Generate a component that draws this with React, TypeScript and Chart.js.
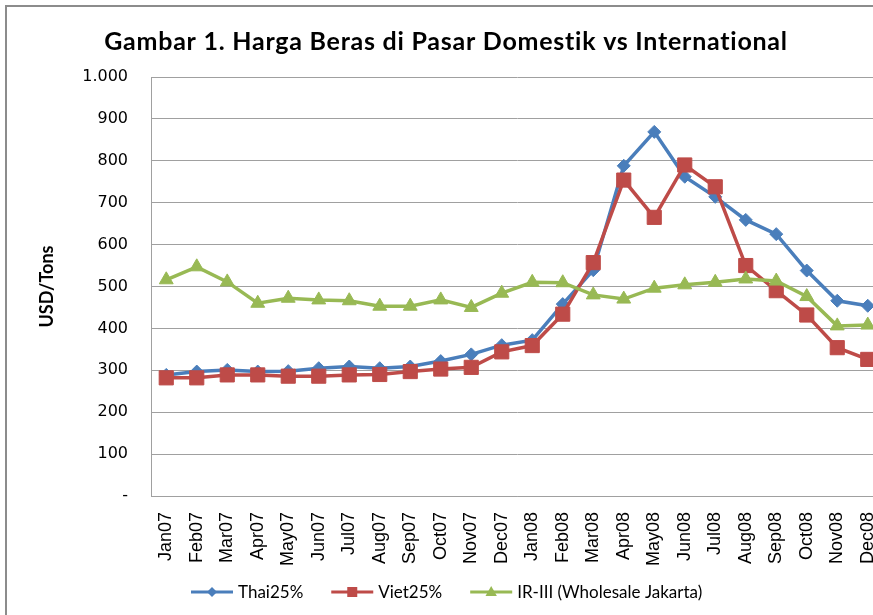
import React, { useEffect, useRef } from 'react';
import { Chart, registerables } from 'chart.js';

Chart.register(...registerables);

const TITLE = 'Gambar 1. Harga Beras di Pasar Domestik vs International';
const Y_TITLE = 'USD/Tons';

const months = [
  'Jan07', 'Feb07', 'Mar07', 'Apr07', 'May07', 'Jun07', 'Jul07', 'Aug07', 'Sep07', 'Oct07', 'Nov07', 'Dec07',
  'Jan08', 'Feb08', 'Mar08', 'Apr08', 'May08', 'Jun08', 'Jul08', 'Aug08', 'Sep08', 'Oct08', 'Nov08', 'Dec08',
];

const seriesNames = ['Thai25%', 'Viet25%', 'IR-III (Wholesale Jakarta)'];

const thai25 = [289, 297, 301, 297, 298, 305, 309, 305, 309, 322, 338, 360, 372, 458, 539, 788, 869, 762, 714, 659, 625, 538, 466, 454];
const viet25 = [282, 282, 289, 289, 286, 286, 289, 290, 297, 303, 307, 344, 359, 434, 557, 754, 665, 790, 738, 550, 490, 432, 354, 326];
const irIII = [516, 547, 511, 460, 472, 468, 466, 453, 453, 468, 450, 484, 510, 509, 480, 470, 496, 504, 510, 518, 513, 476, 406, 408];

const Y_MIN = 0;
const Y_MAX = 1000;
const Y_STEP = 100;

const CANVAS_W = 900;
const CANVAS_H = 640;

function formatTick(v: number): string {
  if (v === 0) return '-';
  if (v >= 1000) {
    return `${Math.floor(v / 1000)}.${String(v % 1000).padStart(3, '0')}`;
  }
  return String(v);
}

function drawMarker(ctx: CanvasRenderingContext2D, style: string, x: number, y: number, r: number, color: string) {
  ctx.save();
  ctx.fillStyle = color;
  ctx.beginPath();
  if (style === 'rectRot') {
    ctx.moveTo(x, y - r);
    ctx.lineTo(x + r, y);
    ctx.lineTo(x, y + r);
    ctx.lineTo(x - r, y);
  } else if (style === 'rect') {
    ctx.rect(x - r, y - r, 2 * r, 2 * r);
  } else {
    ctx.moveTo(x, y - r);
    ctx.lineTo(x + r * 0.95, y + r * 0.65);
    ctx.lineTo(x - r * 0.95, y + r * 0.65);
  }
  ctx.closePath();
  ctx.fill();
  ctx.restore();
}

const decorPlugin = {
  id: 'decor',
  afterDraw(chart: any) {
    const ctx: any = chart.ctx;
    ctx.save();
    // Title
    ctx.font = 'bold 25px Lato';
    ctx.letterSpacing = '0.75px';
    ctx.fillStyle = '#000';
    ctx.textAlign = 'center';
    ctx.textBaseline = 'alphabetic';
    ctx.fillText(TITLE, 439, 43);
    ctx.letterSpacing = '0px';

    // Legend
    ctx.font = '17px Lato';
    ctx.textAlign = 'left';
    ctx.textBaseline = 'middle';
    let x = 184;
    const y = 585;
    const legendSizes = [5, 5, 6];
    chart.data.datasets.forEach((ds: any, i: number) => {
      ctx.strokeStyle = ds.borderColor;
      ctx.lineWidth = 3;
      ctx.beginPath();
      ctx.moveTo(x, y);
      ctx.lineTo(x + 42, y);
      ctx.stroke();
      drawMarker(ctx, ds.pointStyle, x + 21, y, legendSizes[i], ds.borderColor);
      ctx.fillStyle = '#000';
      ctx.fillText(ds.label, x + 47, y + 1);
      x += 47 + ctx.measureText(ds.label).width + 28;
    });
    ctx.restore();
  },
};

export default function App() {
  const ref = useRef<HTMLCanvasElement>(null);

  useEffect(() => {
    if (!ref.current) return;
    const chart = new Chart(ref.current, {
      type: 'line',
      data: {
        labels: months,
        datasets: [
          {
            label: seriesNames[0],
            data: thai25,
            borderColor: '#4A7EBB',
            backgroundColor: '#4A7EBB',
            borderWidth: 3.5,
            pointStyle: 'rectRot',
            pointRadius: 6.5,
            pointBorderWidth: 1,
            tension: 0,
            order: 3,
          },
          {
            label: seriesNames[1],
            data: viet25,
            borderColor: '#BE4B48',
            backgroundColor: '#BE4B48',
            borderWidth: 3.5,
            pointStyle: 'rect',
            pointRadius: 10,
            pointBorderWidth: 1,
            tension: 0,
            order: 2,
          },
          {
            label: seriesNames[2],
            data: irIII,
            borderColor: '#98B954',
            backgroundColor: '#98B954',
            borderWidth: 3.5,
            pointStyle: 'triangle',
            pointRadius: 8,
            pointBorderWidth: 1,
            tension: 0,
            order: 1,
          },
        ],
      },
      options: {
        responsive: false,
        animation: false,
        devicePixelRatio: 1,
        layout: { padding: { top: 70, right: 24, left: 0, bottom: 0 } },
        plugins: {
          legend: { display: false },
          title: { display: false },
          tooltip: { enabled: false },
        },
        scales: {
          x: {
            type: 'category',
            offset: true,
            grid: { display: false, drawTicks: false },
            border: { display: true, color: '#A0A0A0', width: 1 },
            ticks: {
              autoSkip: false,
              minRotation: 90,
              maxRotation: 90,
              padding: 16,
              color: '#000',
              font: { family: 'Liberation Sans', size: 18 },
            },
            afterFit(scale: any) {
              scale.height = CANVAS_H - 489;
            },
          },
          y: {
            min: Y_MIN,
            max: Y_MAX,
            ticks: {
              stepSize: Y_STEP,
              padding: 23,
              color: '#000',
              font: { family: 'DejaVu Sans', size: 16 },
              callback: (v: any) => formatTick(Number(v)),
            },
            grid: { color: '#A0A0A0', lineWidth: 1, drawTicks: false },
            border: { color: '#A0A0A0', width: 1 },
            title: {
              display: true,
              text: Y_TITLE,
              color: '#000',
              font: { family: 'Lato', size: 18, weight: 'bold' },
              padding: { top: 29, bottom: 0 },
            },
            afterFit(scale: any) {
              scale.width = 144;
            },
          },
        },
      },
      plugins: [decorPlugin],
    } as any);
    return () => chart.destroy();
  }, []);

  return (
    <div
      style={{
        position: 'fixed',
        left: 5,
        top: 5,
        width: 868,
        height: 610,
        overflow: 'hidden',
        background: '#fff',
      }}
    >
      <div style={{ width: CANVAS_W, height: CANVAS_H, border: '2px solid #8C8C8C', background: '#fff' }}>
        <canvas ref={ref} width={CANVAS_W} height={CANVAS_H} style={{ display: 'block' }} />
      </div>
    </div>
  );
}
